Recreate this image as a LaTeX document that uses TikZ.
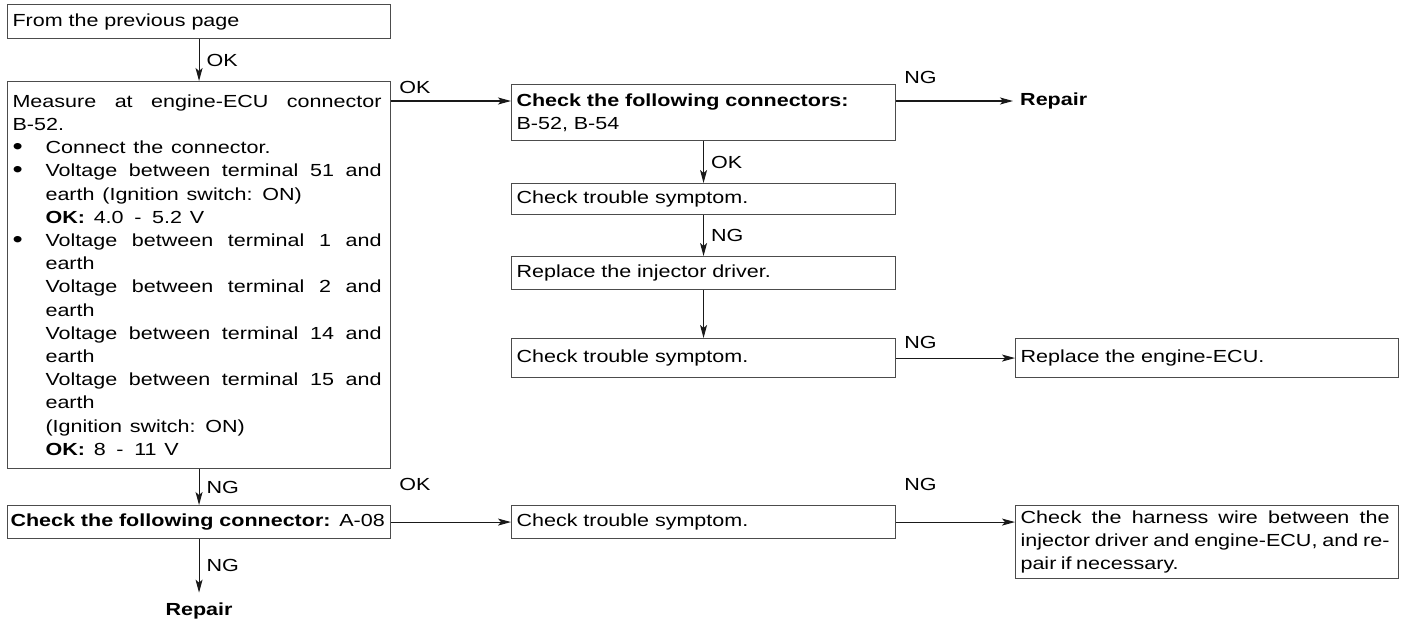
\documentclass[tikz,border=0pt]{standalone}
\usepackage{fontspec}
\setmainfont{Liberation Sans}[FakeStretch=1.23, WordSpace=1.3]
\usetikzlibrary{arrows.meta}
\newcommand\lk{\leftskip=5pt\rightskip=9pt plus 1fil\parindent=0pt\relax}
\newcommand\jk{\leftskip=5pt\rightskip=9pt\parindent=0pt\relax}
\newcommand\bul{\noindent\hangindent=33pt\hangafter=1\makebox[33pt][l]{\raisebox{-0.5pt}{\scalebox{1.35}{\textbullet}}}}
\begin{document}
\begin{tikzpicture}[x=1pt,y=-1pt,
  font=\fontsize{17.5}{23.2}\selectfont,
  box/.style={draw=black!70, line width=1.1pt, anchor=north west, inner xsep=0pt, inner ysep=0pt, align=left},
  conn/.style={draw=black!90, line width=1.1pt, -{Stealth[length=13pt,width=7pt,inset=3pt]}},
  lbl/.style={inner sep=0pt}]
\useasboundingbox (0,0) rectangle (1406,625);
% left column
\node[box, text width=383pt, minimum height=34pt] (prev) at (7,4) {\lk From the previous page\par};
\node[box, text width=383pt, align=justify, minimum height=387pt] (meas) at (7,81) {\jk
Measure at engine-ECU connector\linebreak B-52.\par
\bul Connect the connector.\par
\bul Voltage between terminal 51 and\linebreak earth (Ignition switch: ON)\\\textbf{OK:}\enspace 4.0 \,-\, 5.2 V\par
\bul Voltage between terminal 1 and\linebreak earth\\Voltage between terminal 2 and\linebreak earth\\Voltage between terminal 14 and\linebreak earth\\Voltage between terminal 15 and\linebreak earth\\(Ignition switch: ON)\\\textbf{OK:}\enspace 8 \,-\, 11 V\par};
\node[box, text width=383pt, minimum height=33pt] (a08) at (7,505) {\leftskip=3pt\rightskip=0pt plus 1fil\parindent=0pt\relax\mbox{\textbf{Check the following connector:} A-08}\par};
\node[lbl, font=\fontsize{17.5}{23.2}\selectfont\bfseries] (rep2) at (199,611) {Repair};
% right column
\node[box, text width=384pt, minimum height=56pt] (conns) at (511,84) {\lk\textbf{Check the following connectors:}\\B-52, B-54\par};
\node[lbl, anchor=west, font=\fontsize{17.5}{23.2}\selectfont\bfseries] (rep1) at (1020,101) {Repair};
\node[box, text width=384pt, minimum height=31pt] (cts1) at (511,183) {\lk Check trouble symptom.\par};
\node[box, text width=384pt, minimum height=33pt] (repinj) at (511,256) {\lk Replace the injector driver.\par};
\node[box, text width=384pt, minimum height=39pt] (cts2) at (511,338) {\lk Check trouble symptom.\par};
\node[box, text width=383pt, minimum height=39pt] (recu) at (1015,338) {\lk Replace the engine-ECU.\par};
\node[box, text width=384pt, minimum height=33pt] (cts3) at (511,505) {\lk Check trouble symptom.\par};
\node[box, text width=383pt, align=justify, minimum height=73pt] (harn) at (1015,505) {\jk\spaceskip=4.5pt plus 12pt minus 1pt Check the harness wire between the\linebreak injector driver and engine-ECU, and re-\linebreak pair if necessary.\par};
% vertical connectors
\draw[conn] (prev.south) -- node[lbl, right=7pt] {OK} (meas.north);
\draw[conn] (meas.south) -- node[lbl, right=7pt] {NG} (a08.north);
\draw[conn] (a08.south) -- node[lbl, right=7pt] {NG} ([yshift=10pt]a08.south |- rep2.north);
\draw[conn] (conns.south) -- node[lbl, right=7pt] {OK} (cts1.north);
\draw[conn] (cts1.south) -- node[lbl, right=7pt] {NG} (repinj.north);
\draw[conn] (repinj.south) -- (cts2.north);
% horizontal connectors
\draw[conn] ([yshift=-20pt]meas.north east) coordinate (h1) -- (h1 -| conns.west);
\node[lbl, anchor=base west] at ([xshift=8pt,yshift=-12pt]meas.north east) {OK};
\draw[conn] ([yshift=-17pt]conns.north east) coordinate (h2) -- ([xshift=-7pt]h2 -| rep1.west);
\node[lbl, anchor=base west] at ([xshift=8pt,yshift=1pt]conns.north east) {NG};
\draw[conn] (cts2.east) -- (recu.west);
\node[lbl, anchor=base west] at ([xshift=8pt,yshift=-10pt]cts2.north east) {NG};
\draw[conn] (a08.east) -- (a08.east -| cts3.west);
\node[lbl, anchor=base west] at ([xshift=8pt,yshift=15pt]a08.north east) {OK};
\draw[conn] (cts3.east) -- (cts3.east -| harn.west);
\node[lbl, anchor=base west] at ([xshift=8pt,yshift=15pt]cts3.north east) {NG};
\end{tikzpicture}
\end{document}
